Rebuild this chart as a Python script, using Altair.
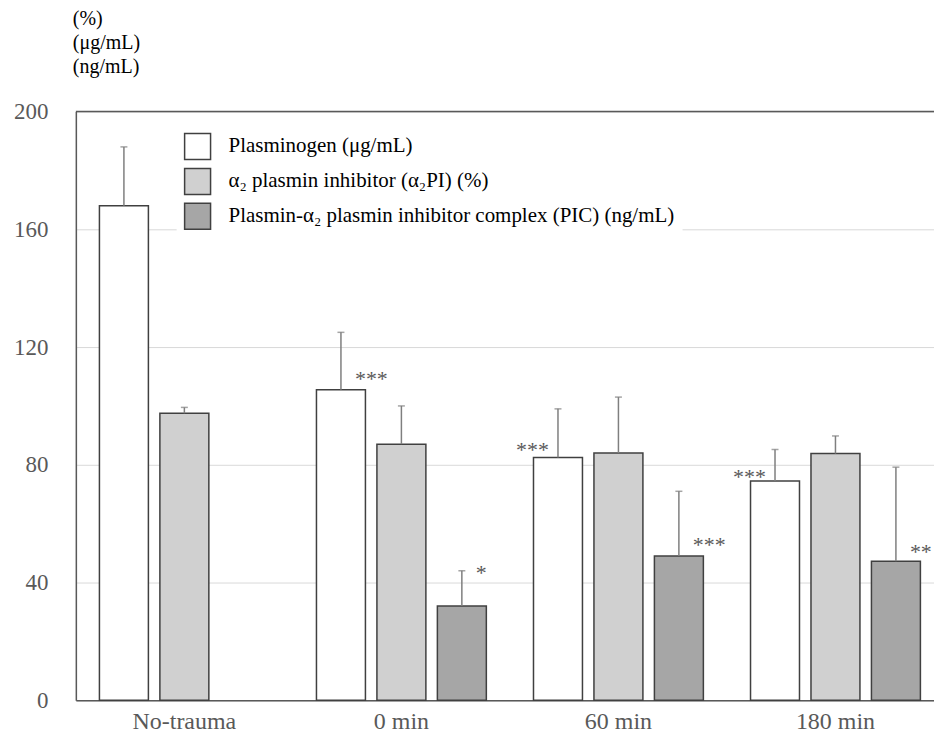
import altair as alt
import pandas as pd

groups = ["No-trauma", "0 min", "60 min", "180 min"]
series = [
    "Plasminogen (μg/mL)",
    "α₂ plasmin inhibitor (α₂PI) (%)",
    "Plasmin-α₂ plasmin inhibitor complex (PIC) (ng/mL)",
]
plasminogen = [168, 105.5, 82.5, 74.5]
plasminogen_sd = [20, 19.5, 16.5, 10.7]
a2pi = [97.5, 87, 84, 83.8]
a2pi_sd = [2, 13, 19, 6]
pic = [None, 32, 49, 47.2]
pic_sd = [None, 12, 22, 32]

ann_group = ["0 min", "0 min", "60 min", "60 min", "180 min", "180 min"]
ann_series = [series[0], series[2], series[0], series[2], series[0], series[2]]
ann_text = ["***", "*", "***", "***", "***", "**"]
ann_y = [111, 45, 86.7, 54.6, 77.6, 52]
ann_side = ["right", "right", "left", "right", "left", "right"]

rows = []
for vals, sds, s in [(plasminogen, plasminogen_sd, series[0]),
                     (a2pi, a2pi_sd, series[1]),
                     (pic, pic_sd, series[2])]:
    for g, v, sd in zip(groups, vals, sds):
        if v is None:
            continue
        rows.append({"group": g, "series": s, "value": v, "top": v + sd})
df = pd.DataFrame(rows)
ann = pd.DataFrame({"group": ann_group, "series": ann_series, "text": ann_text,
                    "y": ann_y, "side": ann_side})

FONT = "Liberation Serif"
x_scale = alt.Scale(domain=groups, paddingInner=0, paddingOuter=0, range=[0, 870])
x_enc = alt.X("group:N", sort=groups, scale=x_scale,
              axis=alt.Axis(title=None, labelAngle=0, labelFont=FONT, labelFontSize=24,
                            labelColor="#595959", labelPadding=9, tickSize=0,
                            domainColor="#595959", domainWidth=1.5))
xoff = alt.XOffset("series:N", sort=series,
                   scale=alt.Scale(domain=series, paddingInner=0.19, paddingOuter=0.39))
y_scale = alt.Scale(domain=[0, 200], nice=False)

base = alt.Chart(df)

bars = base.mark_bar(stroke="#404040", strokeWidth=1.5).encode(
    x=x_enc,
    xOffset=xoff,
    y=alt.Y("value:Q", scale=y_scale,
            axis=alt.Axis(title=None, values=[0, 40, 80, 120, 160, 200], labelFont=FONT,
                          labelFontSize=23, labelColor="#595959", labelPadding=28,
                          tickSize=0, gridColor="#d9d9d9", gridWidth=1,
                          domainColor="#595959", domainWidth=1.5)),
    color=alt.Color("series:N", sort=series,
                    scale=alt.Scale(domain=series, range=["#ffffff", "#d0d0d0", "#a6a6a6"]),
                    legend=alt.Legend(title=None, orient="none", legendX=101, legendY=14,
                                      fillColor="white", padding=7, symbolType="square",
                                      symbolSize=676, symbolStrokeColor="#404040",
                                      symbolStrokeWidth=1.5, symbolOpacity=1,
                                      labelFont=FONT, labelFontSize=21, labelColor="black",
                                      labelOffset=17, rowPadding=3, labelLimit=600)),
)

err = base.mark_rule(color="#7f7f7f", strokeWidth=1.5).encode(
    x=alt.X("group:N", sort=groups, scale=x_scale), xOffset=xoff,
    y=alt.Y("value:Q", scale=y_scale), y2="top:Q")
caps = base.mark_tick(color="#7f7f7f", thickness=1.5, size=7).encode(
    x=alt.X("group:N", sort=groups, scale=x_scale), xOffset=xoff,
    y=alt.Y("top:Q", scale=y_scale))

top_rule = alt.Chart(pd.DataFrame({"v": [200]})).mark_rule(
    color="#595959", strokeWidth=1.5).encode(y=alt.Y("v:Q", scale=y_scale))

star_r = alt.Chart(ann).transform_filter(alt.datum.side == "right").mark_text(
    align="left", baseline="middle", dx=14, dy=5, font=FONT, fontSize=22, color="#595959").encode(
    x=alt.X("group:N", sort=groups, scale=x_scale), xOffset=xoff,
    y=alt.Y("y:Q", scale=y_scale), text="text:N")
star_l = alt.Chart(ann).transform_filter(alt.datum.side == "left").mark_text(
    align="right", baseline="middle", dx=-9, dy=5, font=FONT, fontSize=22, color="#595959").encode(
    x=alt.X("group:N", sort=groups, scale=x_scale), xOffset=xoff,
    y=alt.Y("y:Q", scale=y_scale), text="text:N")

chart = alt.layer(bars, err, caps, top_rule, star_r, star_l).properties(
    width=860, height=590,
    padding={"left": 68, "top": 103, "right": 0, "bottom": 32},
    autosize=alt.AutoSizeParams(type="none"),
    title=alt.TitleParams(["(%)", "(μg/mL)", "(ng/mL)"], anchor="start", frame="group",
                          font=FONT, fontSize=20, fontWeight="normal", color="black",
                          lineHeight=24, dx=-3, offset=24),
).configure_view(stroke="#d9d9d9", strokeWidth=1)

chart.save("out.html", embed_options={"renderer": "svg", "actions": False})
